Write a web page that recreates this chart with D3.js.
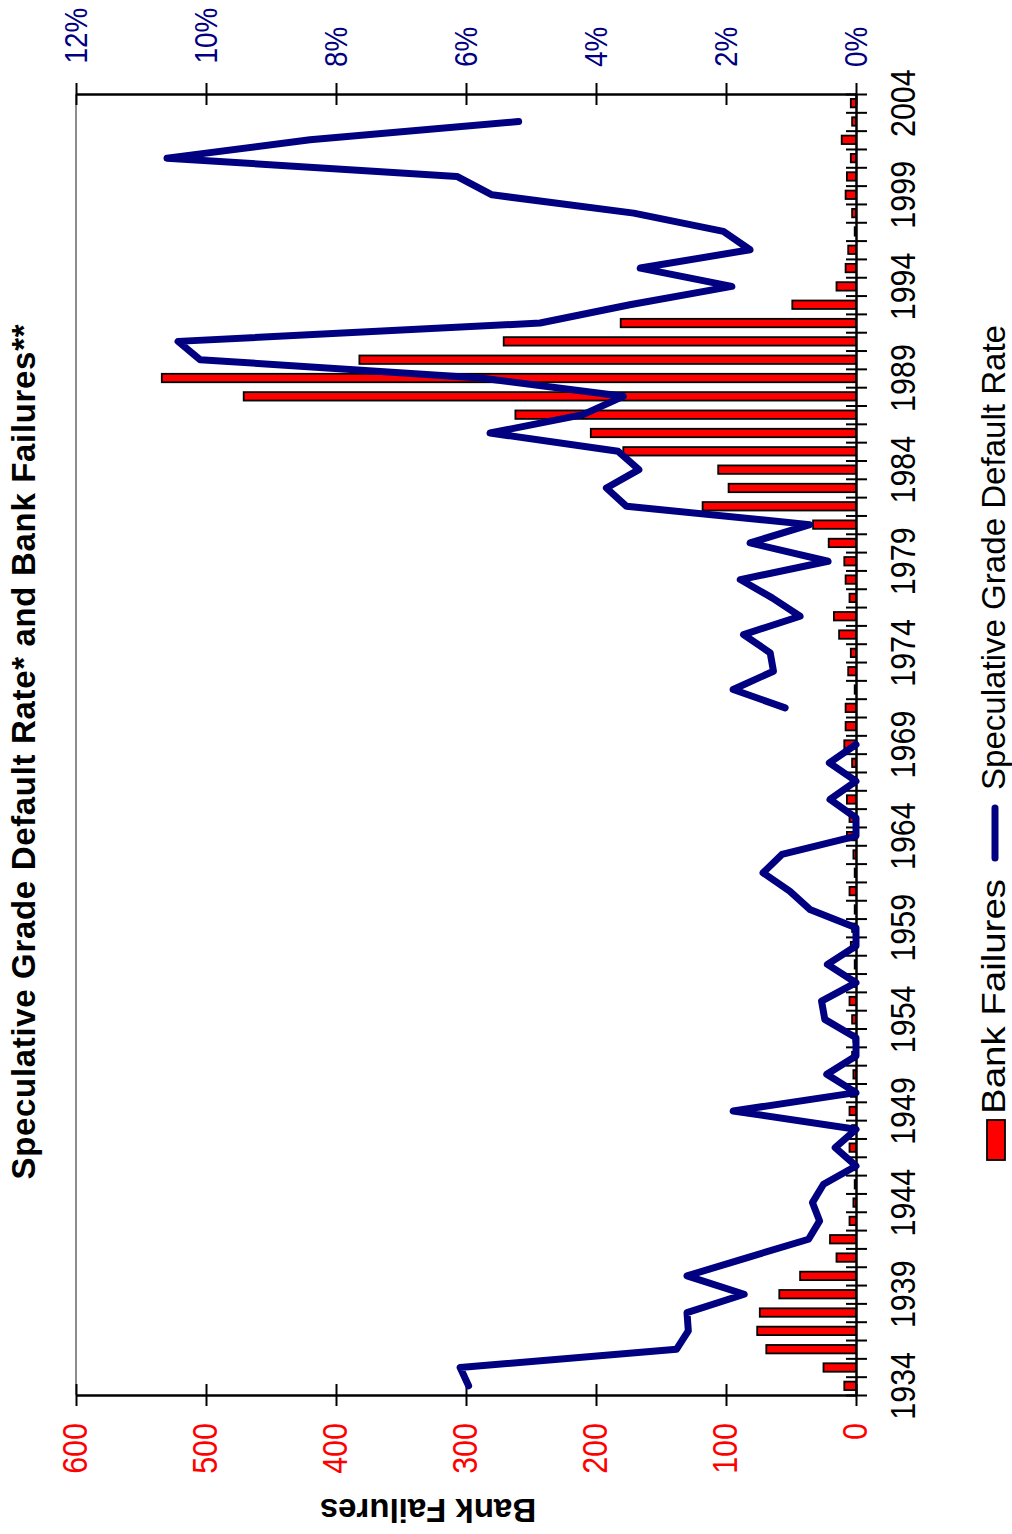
<!DOCTYPE html>
<html><head><meta charset="utf-8">
<script src="https://cdn.jsdelivr.net/npm/d3@7"></script>
<style>body{margin:0;background:#fff}svg{display:block}</style>
</head><body>
<svg id="c" width="1012" height="1534"></svg>
<script>
// ---------- data ----------
const years = [1934,1935,1936,1937,1938,1939,1940,1941,1942,1943,1944,1945,1946,1947,1948,1949,
  1950,1951,1952,1953,1954,1955,1956,1957,1958,1959,1960,1961,1962,1963,1964,1965,1966,1967,1968,1969,
  1970,1971,1972,1973,1974,1975,1976,1977,1978,1979,1980,1981,1982,1983,1984,1985,1986,1987,1988,1989,
  1990,1991,1992,1993,1994,1995,1996,1997,1998,1999,2000,2001,2002,2003,2004];
const bankFailures = [9,25,69,76,74,59,43,15,20,5,2,1,1,5,3,5,
  4,2,3,2,3,5,2,1,4,3,1,5,1,2,7,5,7,4,3,9,
  8,8,1,6,4,13,17,5,8,9,21,33,118,98,106,179,204,262,471,534,
  382,271,181,49,15,8,6,1,3,8,7,4,11,3,4];
const defaultRate = [5.96,6.09,2.76,2.58,2.60,1.72,2.60,1.67,0.73,0.56,0.67,0.50,0.00,0.32,0.00,1.89,
  0.00,0.45,0.00,0.00,0.48,0.53,0.00,0.44,0.00,0.00,0.71,1.02,1.43,1.14,0.00,0.00,0.40,0.00,0.41,0.00,
  null,1.09,1.89,1.27,1.32,1.73,0.86,1.29,1.78,0.43,1.63,0.71,3.53,3.84,3.34,3.66,5.63,4.20,3.58,5.78,
  10.09,10.43,4.86,3.48,1.91,3.32,1.63,2.04,3.42,5.60,6.14,10.60,8.40,5.19,null];
const yearLabels = [1934,1939,1944,1949,1954,1959,1964,1969,1974,1979,1984,1989,1994,1999,2004];
const bankTicks = [0,100,200,300,400,500,600];
const rateTicks = [0,2,4,6,8,10,12];
const titleText = "Speculative Grade Default Rate* and Bank Failures**";
const leftAxisTitle = "Bank Failures";
const legendBars = "Bank Failures";
const legendLine = "Speculative Grade Default Rate";

// ---------- layout ----------
const FONT = '"Liberation Sans", Arial, Helvetica, sans-serif';
const X0 = 856, X1 = 76, YB = 1395, YT = 94;
const svg = d3.select('#c');

const yBand = d3.scaleBand().domain(years).range([YB, YT]);
const bw = yBand.bandwidth();
const yEdge = d3.scaleLinear().domain([years[0]-0.5, years[years.length-1]+0.5]).range([YB, YT]);
const xBank = d3.scaleLinear().domain([0, 600]).range([X0, X1]);
const xRate = d3.scaleLinear().domain([0, 12]).range([X0, X1]);

// gray top border (original chart's top edge)
svg.append('line').attr('x1', X1).attr('x2', X1).attr('y1', YT).attr('y2', YB)
  .attr('stroke', '#8c8c8c').attr('stroke-width', 2);

// bars
svg.append('g').selectAll('rect').data(years.map((y,i)=>({year:y, v:bankFailures[i]})))
  .join('rect')
  .attr('x', d => xBank(d.v))
  .attr('width', d => xBank(0) - xBank(d.v))
  .attr('y', d => yBand(d.year) + bw*0.27)
  .attr('height', bw*0.46)
  .attr('fill', '#ff0000').attr('stroke', '#000').attr('stroke-width', 1.8);

// axes
function styleAxis(g){
  g.select('.domain').attr('stroke','#000').attr('stroke-width',2.5);
  g.selectAll('.tick line').attr('stroke','#000').attr('stroke-width',2);
  g.selectAll('.tick text').remove();
}
const edges = years.map(y => y-0.5).concat([years[years.length-1]+0.5]);
const gY = svg.append('g').attr('transform', `translate(${X0},0)`)
  .call(d3.axisRight(yEdge).tickValues(edges).tickSize(11).tickSizeOuter(0).tickFormat(''));
gY.selectAll('.tick line').attr('x1', -10).attr('x2', 11);
styleAxis(gY);

const gB = svg.append('g').attr('transform', `translate(0,${YB})`)
  .call(d3.axisBottom(xBank).tickValues(bankTicks).tickSize(11).tickSizeOuter(0).tickFormat(''));
gB.selectAll('.tick line').attr('y1', -11).attr('y2', 11);
styleAxis(gB);

const gT = svg.append('g').attr('transform', `translate(0,${YT})`)
  .call(d3.axisTop(xRate).tickValues(rateTicks).tickSize(11).tickSizeOuter(0).tickFormat(''));
gT.selectAll('.tick line').attr('y1', -11).attr('y2', 11);
styleAxis(gT);

// default rate line
const lineGen = d3.line()
  .defined(d => d.v !== null)
  .x(d => xRate(d.v))
  .y(d => yBand(d.year) + bw/2);
svg.append('path').datum(years.map((y,i)=>({year:y, v:defaultRate[i]})))
  .attr('d', lineGen).attr('fill','none').attr('stroke','#000080')
  .attr('stroke-width', 7).attr('stroke-linejoin','round').attr('stroke-linecap','round');

// ---------- text helper ----------
function vtext(x, y, txt, o){
  const t = svg.append('text')
    .attr('transform', `translate(${x},${y}) rotate(${o.rot===undefined?-90:o.rot})`)
    .attr('font-family', FONT).attr('font-size', o.size).attr('fill', o.fill || '#000')
    .attr('font-weight', o.weight || 'normal').attr('text-anchor', o.anchor || 'start')
    .text(txt);
  if (o.factor) {
    const L = t.node().getComputedTextLength();
    t.attr('textLength', L*o.factor).attr('lengthAdjust', 'spacingAndGlyphs');
  }
  if (o.len) t.attr('textLength', o.len).attr('lengthAdjust', o.adjust || 'spacingAndGlyphs');
  return t;
}

// year labels
yearLabels.forEach(yr => vtext(915, yBand(yr) + bw/2, String(yr), {size:35, anchor:'middle', factor:0.87}));
// bank failure labels (red)
bankTicks.forEach(v => vtext(xBank(v) + 11, 1423, String(v), {size:35, anchor:'end', fill:'#ff0000', factor:0.87}));
// rate labels (navy)
rateTicks.forEach(v => {
  const s = v + '%';
  vtext(xRate(v) + 11, s.length > 2 ? 63.5 : 67, s, {size:31, fill:'#000080', factor:0.9});
});
// title
vtext(35, 752, titleText, {size:33, weight:'bold', anchor:'middle', len:855, adjust:'spacing'});
// left axis title (upside down)
vtext(428, 1499, leftAxisTitle, {size:33, weight:'bold', anchor:'middle', rot:180});

// legend
svg.append('rect').attr('x', 987).attr('y', 1120).attr('width', 18).attr('height', 40)
  .attr('fill', '#ff0000').attr('stroke', '#000').attr('stroke-width', 1.8);
vtext(1005, 1114, legendBars, {size:33, len:235});
svg.append('line').attr('x1', 995).attr('x2', 995).attr('y1', 808).attr('y2', 858)
  .attr('stroke', '#000080').attr('stroke-width', 7).attr('stroke-linecap', 'round');
vtext(1005, 790, legendLine, {size:33, len:465});
</script>
</body></html>
